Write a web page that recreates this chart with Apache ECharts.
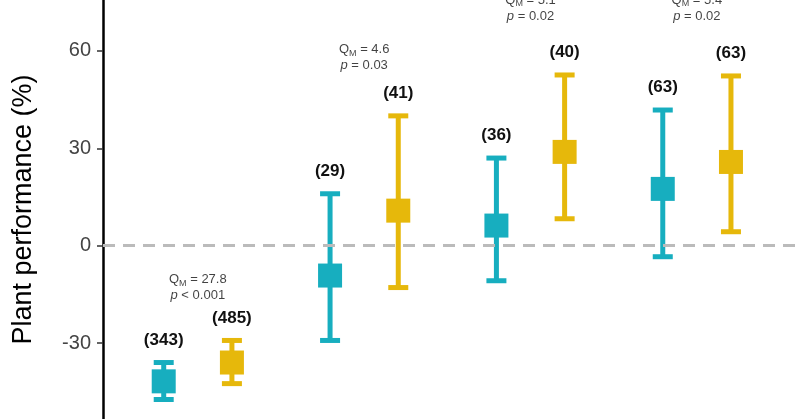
<!DOCTYPE html><html><head><meta charset="utf-8">
<script src="https://cdn.jsdelivr.net/npm/echarts@6/dist/echarts.min.js"></script>
<style>html,body{margin:0;background:#fff}#c{width:800px;height:419px}</style></head><body><div id="c"></div><script>
const groups=[1,2,3,4];
const tealMean=[-41.8,-9.2,6.2,17.5], tealLow=[-47.4,-29.2,-10.8,-3.4], tealHigh=[-36,16,27,41.8], tealN=['(343)','(29)','(36)','(63)'];
const goldMean=[-36,10.8,28.9,25.8], goldLow=[-42.5,-12.9,8.3,4.3], goldHigh=[-29.2,40,52.6,52.3], goldN=['(485)','(41)','(40)','(63)'];
const qm=['27.8','4.6','5.1','5.4'], pv=['< 0.001','= 0.03','= 0.02','= 0.02'], annY=[-12.9,57.9,73.2,73.2];
const yTicks=[-30,0,30,60];
const off=0.205;
function mk(mean,low,high,n,dx,color){
  return {type:'custom',clip:false,data:groups.map((g,i)=>[g+dx,mean[i],low[i],high[i],n[i]]),
    renderItem:(p,api)=>{const c=api.coord([api.value(0),api.value(1)]),l=api.coord([api.value(0),api.value(2)]),h=api.coord([api.value(0),api.value(3)]);
      return {type:'group',children:[
        {type:'line',shape:{x1:c[0],y1:l[1],x2:c[0],y2:h[1]},style:{stroke:color,lineWidth:5}},
        {type:'line',shape:{x1:c[0]-10,y1:l[1],x2:c[0]+10,y2:l[1]},style:{stroke:color,lineWidth:5}},
        {type:'line',shape:{x1:c[0]-10,y1:h[1],x2:c[0]+10,y2:h[1]},style:{stroke:color,lineWidth:5}},
        {type:'rect',shape:{x:c[0]-12,y:c[1]-12,width:24,height:24},style:{fill:color}},
        {type:'text',style:{text:api.value(4),x:c[0],y:h[1]-14,align:'center',verticalAlign:'bottom',font:'bold 17px Arial, Liberation Sans',fill:'#111'}}
      ]};}};
}
const chart=echarts.init(document.getElementById('c'));
chart.setOption({animation:false,
 grid:{left:103,right:0,top:0,bottom:0},
 xAxis:{type:'value',min:0.43,max:4.62,show:false},
 yAxis:{type:'value',min:-53.4,max:75.7,splitLine:{show:false},
   axisLine:{show:true,lineStyle:{color:'#000',width:2.5}},
   axisTick:{show:true,length:6,lineStyle:{color:'#333',width:1.5},customValues:yTicks},
   axisLabel:{customValues:yTicks,fontSize:20,color:'#444',margin:12,fontFamily:'Liberation Sans, Arial'},
   name:'Plant performance (%)',nameLocation:'middle',nameGap:66,nameTextStyle:{fontSize:27,color:'#000',fontFamily:'Liberation Sans, Arial'}},
 series:[
  {type:'line',data:[],markLine:{silent:true,symbol:'none',label:{show:false},lineStyle:{color:'#bbb',type:[12,8],width:3},data:[{yAxis:0}]}},
  mk(tealMean,tealLow,tealHigh,tealN,-off,'#17aebf'),
  mk(goldMean,goldLow,goldHigh,goldN,off,'#e6b80b'),
  {type:'scatter',clip:false,symbolSize:0,data:groups.map((g,i)=>[g,annY[i],qm[i],pv[i]]),
   label:{show:true,position:'inside',lineHeight:16,fontFamily:'Liberation Sans, Arial',fontSize:13,color:'#111',
    formatter:p=>'{a|Q}{s|M}{a| = '+p.value[2]+'}\n{i|p}{a| '+p.value[3]+'}',
    rich:{a:{fontSize:13},s:{fontSize:9,verticalAlign:'bottom',padding:[6,0,0,0]},i:{fontSize:13,fontStyle:'italic'}}}}
 ]});
</script></body></html>
